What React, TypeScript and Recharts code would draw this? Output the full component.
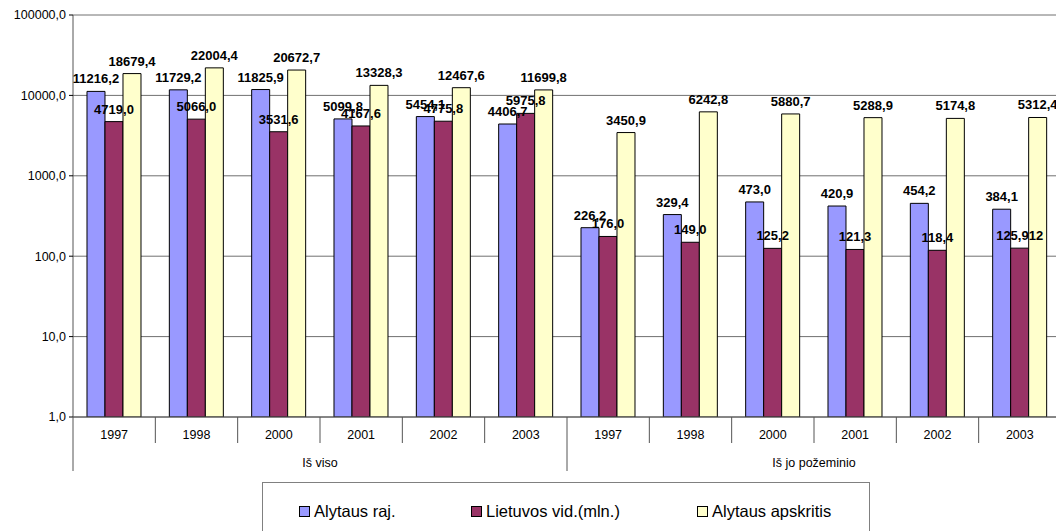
import React from 'react';
import { BarChart, Bar, XAxis, YAxis, CartesianGrid, Legend, LabelList } from 'recharts';

const years = ['1997', '1998', '2000', '2001', '2002', '2003', '1997', '1998', '2000', '2001', '2002', '2003'];
const groups = ['Iš viso', 'Iš viso', 'Iš viso', 'Iš viso', 'Iš viso', 'Iš viso',
  'Iš jo požeminio', 'Iš jo požeminio', 'Iš jo požeminio', 'Iš jo požeminio', 'Iš jo požeminio', 'Iš jo požeminio'];
const alytausRaj = [11216.2, 11729.2, 11825.9, 5099.8, 5454.1, 4406.7, 226.2, 329.4, 473.0, 420.9, 454.2, 384.1];
const lietuvosVid = [4719.0, 5066.0, 3531.6, 4167.6, 4775.8, 5975.8, 176.0, 149.0, 125.2, 121.3, 118.4, 125.912];
const alytausApskr = [18679.4, 22004.4, 20672.7, 13328.3, 12467.6, 11699.8, 3450.9, 6242.8, 5880.7, 5288.9, 5174.8, 5312.4];
const yTicks = [1, 10, 100, 1000, 10000, 100000];

const seriesKeys = ['a', 'b', 'c'];
const seriesNames = ['Alytaus raj.', 'Lietuvos vid.(mln.)', 'Alytaus apskritis'];
const colors = ['#9999FF', '#993366', '#FFFFCC'];

const data = years.map((y, i) => ({
  key: i,
  year: y,
  group: groups[i],
  a: alytausRaj[i],
  b: lietuvosVid[i],
  c: alytausApskr[i],
}));

const FONT = "Arial, 'Liberation Sans', sans-serif";

const fmt = (v: any) => {
  const n = Number(v);
  if (Math.abs(n * 10 - Math.round(n * 10)) < 1e-6) return n.toFixed(1).replace('.', ',');
  return String(n).replace('.', ',');
};

const YearTick = (props: any) => {
  const { x, y, payload, width } = props;
  const idx = payload.index;
  const n = data.length;
  const band = width / n;
  const right = x + band / 2;
  const left = x - band / 2;
  const isGroupEnd = idx === n - 1 || groups[idx + 1] !== groups[idx];
  const isGroupStart = idx === 0 || groups[idx - 1] !== groups[idx];
  let groupLabel = null;
  if (isGroupStart) {
    let cnt = 0;
    for (let j = idx; j < n && groups[j] === groups[idx]; j++) cnt++;
    const cx = left + (cnt * band) / 2;
    groupLabel = (
      <text x={cx} y={y + 50} textAnchor="middle" fontSize={12.5} fontFamily={FONT} fill="#000">
        {groups[idx]}
      </text>
    );
  }
  return (
    <g>
      <text x={x} y={y + 22} textAnchor="middle" fontSize={12.5} fontFamily={FONT} fill="#000">
        {years[idx]}
      </text>
      <line x1={right} y1={y} x2={right} y2={y + (isGroupEnd ? 54 : 26)} stroke="#555" strokeWidth={1} />
      {idx === 0 && <line x1={left} y1={y} x2={left} y2={y + 54} stroke="#555" strokeWidth={1} />}
      {groupLabel}
    </g>
  );
};

const itemWidths = [172, 226, 170];

const LegendContent = () => {
  return (
    <div
      style={{
        boxSizing: 'border-box',
        width: 608,
        height: 60,
        border: '1px solid #808080',
        background: '#fff',
        display: 'flex',
        alignItems: 'flex-start',
        paddingLeft: 36,
        paddingTop: 19,
        fontFamily: FONT,
        fontSize: 16.5,
        color: '#000',
      }}
    >
      {seriesNames.map((name, i) => (
        <div key={i} style={{ display: 'flex', alignItems: 'center', width: itemWidths[i], whiteSpace: 'nowrap' }}>
          <span
            style={{
              display: 'inline-block',
              width: 11,
              height: 11,
              boxSizing: 'border-box',
              border: '1px solid #000',
              background: colors[i],
              marginRight: 4,
            }}
          />
          <span style={{ lineHeight: '18px' }}>{name}</span>
        </div>
      ))}
    </div>
  );
};

export default function App() {
  return (
    <div style={{ position: 'absolute', left: 0, top: 0, width: 1056, height: 531, overflow: 'hidden', background: '#fff' }}>
      <BarChart
        width={1061}
        height={531}
        data={data}
        margin={{ top: 15, right: 0, bottom: 54, left: 0 }}
        barCategoryGap="17%"
        barGap={0}
      >
        <CartesianGrid vertical={false} stroke="#707070" strokeWidth={1} />
        <XAxis
          dataKey="key"
          type="category"
          height={60}
          tickLine={false}
          tickSize={0}
          tickMargin={0}
          interval={0}
          axisLine={{ stroke: '#555' }}
          tick={<YearTick />}
        />
        <YAxis
          scale="log"
          domain={[1, 100000]}
          ticks={yTicks}
          allowDataOverflow
          width={73}
          tickSize={4}
          tickMargin={3}
          axisLine={{ stroke: '#555' }}
          tickLine={{ stroke: '#000' }}
          tickFormatter={(v: number) => fmt(v)}
          tick={{ fontSize: 12.5, fontFamily: FONT, fill: '#000' }}
          interval={0}
        />
        <Legend
          layout="horizontal"
          verticalAlign="middle"
          align="center"
          wrapperStyle={{ left: 262, top: 482, width: 608, height: 60 }}
          content={<LegendContent />}
        />
        {seriesKeys.map((k, i) => (
          <Bar key={k} dataKey={k} name={seriesNames[i]} fill={colors[i]} stroke="#000" strokeWidth={1} isAnimationActive={false}>
            <LabelList
              dataKey={k}
              position="top"
              offset={8}
              formatter={fmt}
              style={{ fontSize: 13, fontWeight: 'bold', fontFamily: FONT, fill: '#000' }}
            />
          </Bar>
        ))}
      </BarChart>
    </div>
  );
}
